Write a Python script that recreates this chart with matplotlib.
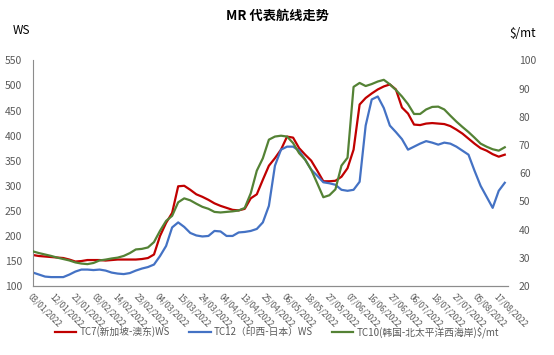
import matplotlib
matplotlib.use('Agg')
import matplotlib.pyplot as plt

plt.rcParams['font.family'] = ['Noto Sans CJK SC', 'DejaVu Sans']

# trading-day labels (one every 7 points)
labels = ['03/01/2022', '12/01/2022', '21/01/2022', '03/02/2022', '14/02/2022',
          '23/02/2022', '04/03/2022', '15/03/2022', '24/03/2022', '04/04/2022',
          '13/04/2022', '25/04/2022', '06/05/2022', '18/05/2022', '27/05/2022',
          '07/06/2022', '16/06/2022', '27/06/2022', '06/07/2022', '18/07/2022',
          '27/07/2022', '05/08/2022', '17/08/2022']
label_step = 7
n_days = 158
sample_step = 2

# TC7 Singapore - East Australia, WS
tc7 = [162, 160, 159, 158, 157, 156, 153, 149, 150, 152,
       152, 152, 151, 152, 153, 153, 153, 153, 154, 156,
       163, 200, 226, 246, 299, 300, 292, 283, 278, 272,
       265, 260, 256, 252, 251, 254, 275, 283, 312, 340,
       355, 372, 398, 396, 375, 362, 350, 330, 309, 309,
       310, 318, 335, 372, 462, 475, 484, 492, 498, 502,
       492, 456, 444, 422, 421, 424, 425, 424, 423, 419,
       412, 404, 394, 384, 375, 370, 363, 358, 362]

# TC12 West India - Japan, WS
tc12 = [127, 123, 119, 118, 118, 118, 123, 129, 133, 133,
        132, 133, 131, 127, 125, 124, 126, 131, 135, 138,
        143, 160, 180, 217, 227, 218, 206, 201, 199, 200,
        210, 209, 200, 200, 207, 208, 210, 214, 227, 260,
        340, 372, 378, 378, 370, 352, 332, 320, 307, 305,
        302, 292, 290, 292, 308, 420, 472, 478, 455, 420,
        407, 393, 372, 378, 384, 389, 386, 382, 386, 384,
        378, 370, 362, 330, 300, 278, 256, 290, 306]

# TC10 South Korea - NOPAC, $/mt
tc10 = [32.3, 31.7, 31.2, 30.7, 30.1, 29.6, 29.1, 28.4, 28.0, 27.8,
        28.2, 29.1, 29.4, 29.8, 30.1, 30.7, 31.7, 33.0, 33.2, 33.7,
        35.6, 39.6, 43.1, 44.9, 49.7, 51.1, 50.4, 49.2, 48.1, 47.4,
        46.3, 46.1, 46.3, 46.5, 46.8, 47.7, 52.9, 60.9, 65.3, 71.9,
        73.0, 73.3, 73.0, 70.7, 67.1, 64.8, 61.2, 56.4, 51.5, 52.2,
        54.3, 62.7, 65.5, 90.6, 92.0, 90.9, 91.6, 92.5, 93.1, 91.5,
        89.5, 87.2, 84.5, 81.0, 81.0, 82.6, 83.5, 83.6, 82.6, 80.4,
        78.3, 76.4, 74.6, 72.6, 70.5, 69.4, 68.5, 68.0, 69.2]

x = list(range(0, len(tc7) * sample_step, sample_step))

fig = plt.figure(figsize=(5.54, 3.55), dpi=100)
ax = fig.add_axes([0.0596, 0.194, 0.857, 0.636])
ax2 = ax.twinx()

grey = '#595959'
l1, = ax.plot(x, tc7, color='#C00000', lw=1.6, label='TC7(新加坡-澳东)WS')
l2, = ax.plot(x, tc12, color='#4472C4', lw=1.6, label='TC12（印西-日本）WS')
l3, = ax2.plot(x, tc10, color='#548235', lw=1.6, label='TC10(韩国-北太平洋西海岸)$/mt')

ax.set_xlim(0, n_days - 1)
ax.set_ylim(100, 550)
ax2.set_ylim(20, 100)
ax.set_yticks(range(100, 551, 50))
ax2.set_yticks(range(20, 101, 10))

ax.set_xticks([i * label_step for i in range(len(labels))])
ax.set_xticklabels(labels, rotation=-45, ha='left', va='top',
                   rotation_mode='anchor', fontsize=6, color=grey)
ax.tick_params(axis='x', length=0, pad=4)
ax.tick_params(axis='y', length=0, labelsize=7.5, labelcolor=grey, pad=8)
ax2.tick_params(axis='y', length=0, labelsize=7.5, labelcolor=grey, pad=8)

for a in (ax, ax2):
    a.spines['top'].set_visible(False)
    a.spines['right'].set_visible(False)
    a.spines['left'].set_visible(False)
    a.spines['bottom'].set_color('#8c8c8c')
ax.spines['left'].set_visible(True)
ax.spines['left'].set_color('#8c8c8c')

fig.text(0.5, 0.955, 'MR 代表航线走势', ha='center', va='center',
         fontsize=9.5, fontweight='bold')
fig.text(0.022, 0.915, 'WS', ha='left', va='center', fontsize=8.5)
fig.text(0.92, 0.905, '$/mt', ha='left', va='center', fontsize=8.5)

fig.legend(handles=[l1, l2, l3], loc='center', bbox_to_anchor=(0.5, 0.065),
           ncol=3, frameon=False, fontsize=7, handlelength=2.2,
           columnspacing=2.0, handletextpad=0.3, labelcolor=grey)

fig.savefig('out.png', dpi=100)
